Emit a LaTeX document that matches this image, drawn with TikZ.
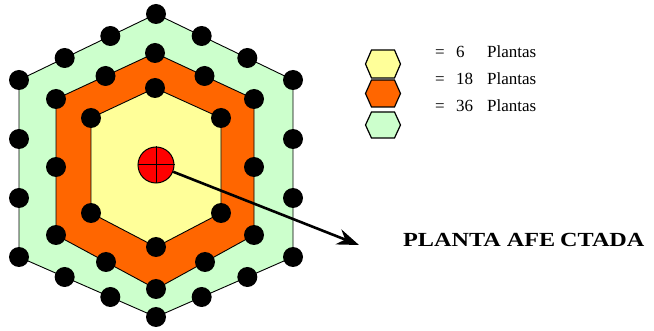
\documentclass[tikz,border=0pt]{standalone}
\usepackage{fontspec}
\setmainfont{Liberation Serif}
\usetikzlibrary{arrows.meta,calc}
\definecolor{hgreen}{HTML}{CCFFCC}
\definecolor{horange}{HTML}{FF6600}
\definecolor{hyellow}{HTML}{FFFF99}
\definecolor{hred}{HTML}{FF0000}
\begin{document}
\begin{tikzpicture}[x=1pt,y=-1pt,
  plant/.style={circle,fill=black,inner sep=0pt,minimum size=20pt},
  ring/.style={draw=black,line width=0.9pt},
  legendhex/.style={draw=black,line width=1.2pt},
  legendtext/.style={anchor=base west,inner sep=0pt,font=\fontsize{17}{17}\selectfont}]
\useasboundingbox (0,0) rectangle (654,331);
% outer hexagon
\coordinate (oT) at (156,14);
\coordinate (oUL) at (19,80);
\coordinate (oLL) at (19,257);
\coordinate (oB) at (156,317);
\coordinate (oLR) at (293,257);
\coordinate (oUR) at (293,80);
% middle hexagon
\coordinate (mT) at (155,53);
\coordinate (mUL) at (56,99);
\coordinate (mLL) at (56,235);
\coordinate (mB) at (156,289);
\coordinate (mLR) at (254,235);
\coordinate (mUR) at (254,99);
% inner hexagon
\coordinate (iT) at (155,88);
\coordinate (iUL) at (91,118);
\coordinate (iLL) at (91,213);
\coordinate (iB) at (156,247);
\coordinate (iLR) at (221,213);
\coordinate (iUR) at (221,118);
\draw[ring,fill=hgreen] (oT) -- (oUL) -- (oLL) -- (oB) -- (oLR) -- (oUR) -- cycle;
\draw[ring,fill=horange] (mT) -- (mUL) -- (mLL) -- (mB) -- (mLR) -- (mUR) -- cycle;
\draw[ring,fill=hyellow] (iT) -- (iUL) -- (iLL) -- (iB) -- (iLR) -- (iUR) -- cycle;
% plants
\foreach \a/\b [count=\e] in {oT/oUL,oUL/oLL,oLL/oB,oB/oLR,oLR/oUR,oUR/oT}
  \foreach \k in {0,1,2}
    \node[plant] (po\e-\k) at ($(\a)!\k/3!(\b)$) {};
\foreach \a/\b [count=\e] in {mT/mUL,mUL/mLL,mLL/mB,mB/mLR,mLR/mUR,mUR/mT}
  \foreach \k in {0,1}
    \node[plant] (pm\e-\k) at ($(\a)!\k/2!(\b)$) {};
\foreach \a [count=\e] in {iT,iUL,iLL,iB,iLR,iUR}
  \node[plant] (pi\e) at (\a) {};
% affected plant
\node[circle,draw=black,fill=hred,line width=1pt,minimum size=36pt,inner sep=0pt] (hit) at (156,165) {};
\draw[line width=1pt] (hit.north) -- (hit.south);
\draw[line width=1pt] (hit.west) -- (hit.east);
\coordinate (tip) at (359,245);
\draw[line width=2.6pt,-{Stealth[length=22pt,width=16pt]}] (hit) -- (tip);
\node[anchor=base west,inner sep=0pt,font=\bfseries\fontsize{20}{20}\selectfont] (lbl) at (403,247)
  {\scalebox{1.21}[1]{PLANTA AFE\kern4pt CTADA}};
% legend
\draw[legendhex,fill=hyellow] (371.5,50) -- (394.5,50) -- (400.5,64) -- (394.5,78) -- (371.5,78) -- (365.5,64) -- cycle;
\draw[legendhex,fill=horange] (371.5,80) -- (394.5,80) -- (400.5,93.5) -- (394.5,107) -- (371.5,107) -- (365.5,93.5) -- cycle;
\draw[legendhex,fill=hgreen] (371.5,112) -- (394.5,112) -- (400.5,125) -- (394.5,138) -- (371.5,138) -- (365.5,125) -- cycle;
\node[legendtext] (l1) at (435,58) {\makebox[21pt][l]{=}\makebox[31pt][l]{6}Plantas};
\node[legendtext] (l2) at (435,85) {\makebox[21pt][l]{=}\makebox[31pt][l]{18}Plantas};
\node[legendtext] (l3) at (435,112) {\makebox[21pt][l]{=}\makebox[31pt][l]{36}Plantas};
\end{tikzpicture}
\end{document}
